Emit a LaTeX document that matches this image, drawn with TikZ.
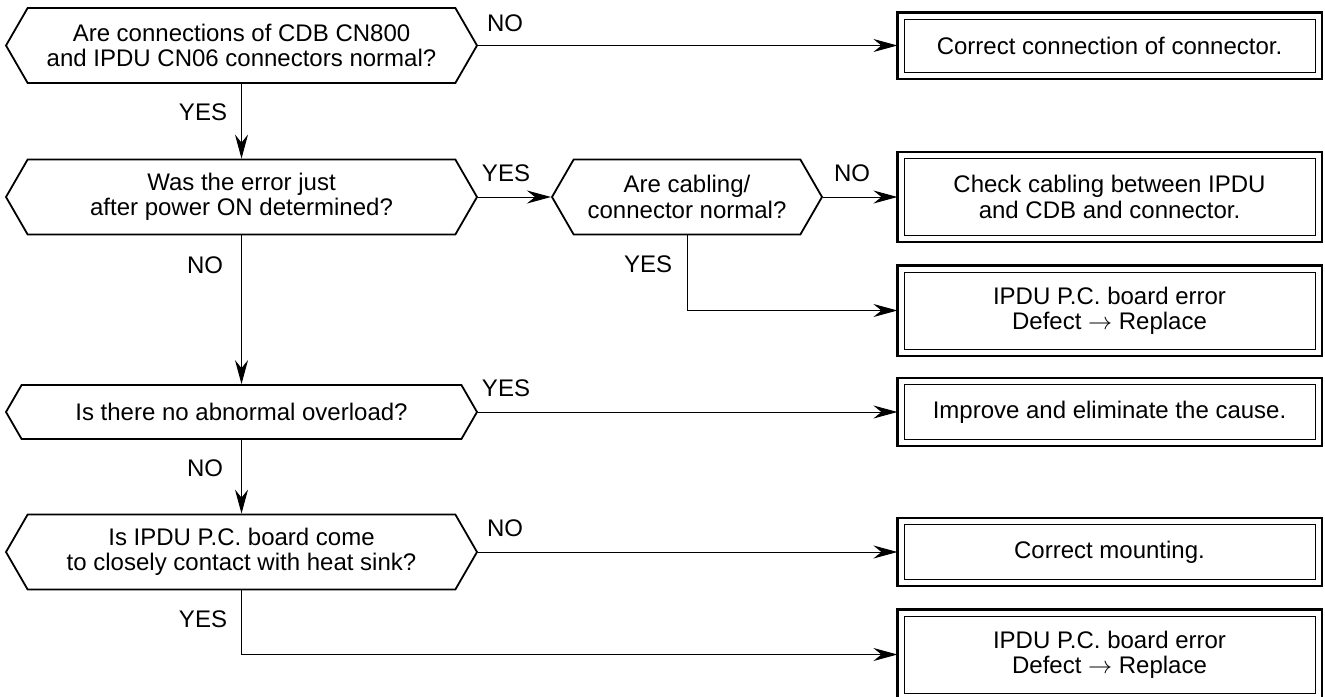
\documentclass[tikz,border=0pt]{standalone}
\usepackage{fontspec}
\setmainfont{Liberation Sans}
\usetikzlibrary{arrows.meta,shapes.symbols}

\begin{document}
\begin{tikzpicture}[x=0.5pt, y=-0.5pt,
  font=\fontsize{12}{12.6}\selectfont,
  question/.style={signal, signal to=west and east, signal pointer angle=120,
    draw, line width=0.9pt, align=center, inner sep=0pt,
    minimum width=235.5pt, minimum height=37.5pt},
  action/.style={draw, line width=0.5pt, align=center, inner sep=0pt,
    minimum width=205.5pt, minimum height=26.5pt, outer sep=3.3pt},
  lbl/.style={inner sep=0pt},
  flow/.style={line width=0.5pt, -{Stealth[length=12pt, width=6.5pt, inset=4pt]}}]

\useasboundingbox (0,0) rectangle (1325,696);

% Questions (colonne gauche)
\node[question] (q1) at (241.5,45.5) {Are connections of CDB CN800\\and IPDU CN06 connectors normal?};
\node[question] (q2) at (241.5,197) {Was the error just\\after power ON determined?};
\node[question, minimum width=135pt] (q3) at (687,197) {Are cabling/\\connector normal?};
\node[question, minimum height=27pt] (q4) at (241.5,412) {Is there no abnormal overload?};
\node[question] (q5) at (241.5,552) {Is IPDU P.C. board come\\to closely contact with heat sink?};

% Actions (colonne droite)
\node[action] (r1) at (1109.5,45.5) {Correct connection of connector.};
\node[action, minimum height=38.5pt] (r2) at (1109.5,197) {Check cabling between IPDU\\and CDB and connector.};
\node[action, minimum height=38.5pt] (r3) at (1109.5,310.5) {IPDU P.C. board error\\Defect\ $\rightarrow$\ Replace};
\node[action, minimum height=27.5pt] (r4) at (1109.5,412) {Improve and eliminate the cause.};
\node[action, minimum height=27.5pt] (r5) at (1109.5,552) {Correct mounting.};
\node[action, minimum height=38.5pt] (r6) at (1109.5,654.5) {IPDU P.C. board error\\Defect\ $\rightarrow$\ Replace};

% Cadre double
\foreach \n in {r1,r2,r3,r4,r5,r6}
  \draw[line width=1.1pt] (\n.north west) rectangle (\n.south east);

% Liaisons
\draw[flow] (q1.east) -- (r1.west);
\draw[flow] (q1.south) -- (q2.north);
\draw[flow] (q2.east) -- (q3.west);
\draw[flow] (q3.east) -- (r2.west);
\draw[flow] (q3.south) |- (r3.west);
\draw[flow] (q2.south) -- (q4.north);
\draw[flow] (q4.east) -- (r4.west);
\draw[flow] (q4.south) -- (q5.north);
\draw[flow] (q5.east) -- (r5.west);
\draw[flow] (q5.south) |- (r6.west);

% Etiquettes YES / NO
\node[lbl] (n1) at (505,23) {NO};
\node[lbl] (y1) at (203,112) {YES};
\node[lbl] (y2) at (506,173) {YES};
\node[lbl] (n2) at (852,173) {NO};
\node[lbl] (y3) at (648,264) {YES};
\node[lbl] (n3) at (205,265) {NO};
\node[lbl] (y4) at (506,388) {YES};
\node[lbl] (n4) at (205,468) {NO};
\node[lbl] (n5) at (505,528) {NO};
\node[lbl] (y5) at (203,619) {YES};
\end{tikzpicture}
\end{document}
